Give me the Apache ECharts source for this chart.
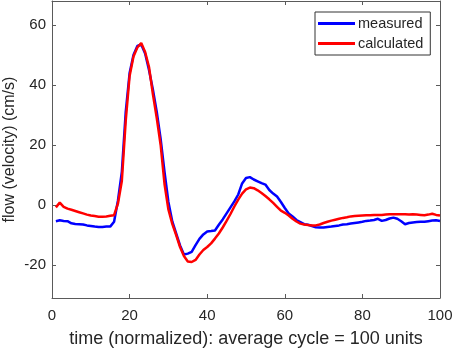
<!DOCTYPE html>
<html>
<head>
<meta charset="utf-8">
<script src="https://cdn.jsdelivr.net/npm/echarts@6/dist/echarts.min.js"></script>
<style>
  html, body { margin: 0; padding: 0; background: #fff; }
  #main { width: 454px; height: 348px; }
</style>
</head>
<body>
<div id="main"></div>
<script>
// time axis (normalized cycle)
var timeValues = [
    1, 2, 3, 4, 5, 6, 7, 8, 9, 10, 11, 12, 13, 14, 15, 16, 17, 18, 19, 20,
    21, 22, 23, 24, 25, 26, 27, 28, 29, 30, 31, 32, 33, 34, 35, 36, 37, 38, 39, 40,
    41, 42, 43, 44, 45, 46, 47, 48, 49, 50, 51, 52, 53, 54, 55, 56, 57, 58, 59, 60,
    61, 62, 63, 64, 65, 66, 67, 68, 69, 70, 71, 72, 73, 74, 75, 76, 77, 78, 79, 80,
    81, 82, 83, 84, 85, 86, 87, 88, 89, 90, 91, 92, 93, 94, 95, 96, 97, 98, 99, 100
];

var measured = [
    -5.4, -5.1, -5.3, -5.4, -6.1, -6.3, -6.4, -6.5, -6.8, -7.0, -7.2, -7.3, -7.3, -7.2, -7.2, -5.6, 1.5, 11, 31, 44,
    50, 53, 53.5, 50.5, 45, 38.5, 31, 22, 11, 1, -5.5, -9.5, -13.5, -16.5, -16.2, -15.6, -13.4, -11.3, -9.8, -8.8,
    -8.7, -8.5, -6.6, -4.8, -2.8, -0.8, 1.2, 3.5, 7.2, 9.0, 9.3, 8.5, 7.9, 7.3, 6.8, 5.0, 3.8, 2.8, 1.0, -1.0,
    -2.8, -3.8, -5.0, -5.7, -6.4, -6.6, -7.0, -7.4, -7.5, -7.5, -7.3, -7.2, -7.0, -6.8, -6.5, -6.4, -6.2, -6.0, -5.8, -5.6,
    -5.3, -5.2, -5.0, -4.6, -5.3, -5.0, -4.5, -4.2, -4.6, -5.4, -6.4, -6.0, -5.8, -5.7, -5.6, -5.6, -5.4, -5.2, -5.1, -5.3
];

var calculated = [
    -0.8, 0.8, -0.6, -1.2, -1.6, -2.0, -2.4, -2.8, -3.2, -3.5, -3.7, -3.9, -3.9, -3.8, -3.6, -3.4, 0.5, 8, 28, 43,
    49.5, 52.5, 54, 51, 46, 37, 29, 20, 7, -1.5, -6.3, -10, -14, -17, -18.8, -19, -18.3, -16.5, -15, -14,
    -12.8, -11.2, -9.5, -7.5, -5.3, -3.0, -0.5, 1.8, 3.8, 5.2, 5.8, 5.6, 4.9, 4.0, 3.0, 1.9, 0.7, -0.6, -1.9, -2.6,
    -3.5, -4.6, -5.5, -6.2, -6.5, -6.7, -6.8, -6.8, -6.5, -6.0, -5.6, -5.2, -4.9, -4.6, -4.3, -4.1, -3.8, -3.7, -3.6, -3.5,
    -3.4, -3.4, -3.3, -3.3, -3.3, -3.2, -3.1, -3.1, -3.1, -3.1, -3.1, -3.2, -3.1, -3.2, -3.3, -3.4, -3.2, -2.9, -3.3, -3.5
];

var yTicks = [-20, 0, 20, 40, 60];

function pairs(ys) {
    var d = [];
    for (var i = 0; i < timeValues.length; i++) {
        d.push([timeValues[i], ys[i]]);
    }
    return d;
}

var axisColor = '#5a5a5a';
var textColor = '#262626';
var font = '"Liberation Sans", Arial, sans-serif';

var myChart = echarts.init(document.getElementById('main'), null, { renderer: 'canvas' });

// box axes: tick marks on all four sides, pointing inwards
var xBase = {
    type: 'value',
    min: 0,
    max: 100,
    interval: 20,
    axisLine: { show: true, onZero: false, lineStyle: { color: axisColor, width: 1 } },
    axisTick: { show: true, inside: true, length: 4, lineStyle: { color: axisColor } },
    splitLine: { show: false }
};
var yBase = {
    type: 'value',
    min: -31,
    max: 68,
    axisLine: { show: true, onZero: false, lineStyle: { color: axisColor, width: 1 } },
    axisTick: { show: true, inside: true, length: 4, customValues: yTicks, lineStyle: { color: axisColor } },
    splitLine: { show: false }
};

var option = {
    animation: false,
    textStyle: { fontFamily: font },
    grid: { left: 52, right: 14, top: 1, bottom: 50, outerBoundsMode: 'none', containLabel: false },
    legend: {
        orient: 'vertical',
        left: 315,
        top: 12,
        width: 114,
        padding: [4, 7, 4, 3],
        itemGap: 5,
        itemWidth: 37,
        itemHeight: 3,
        icon: 'rect',
        borderColor: '#333',
        borderWidth: 1,
        backgroundColor: '#fff',
        textStyle: { fontSize: 14.5, color: textColor, padding: [0, 0, 0, -2] },
        data: ['measured', 'calculated']
    },
    xAxis: [
        echarts.util.merge({
            position: 'bottom',
            name: 'time (normalized): average cycle = 100 units',
            nameLocation: 'middle',
            nameGap: 32,
            nameMoveOverlap: false,
            nameTextStyle: { fontSize: 18, color: textColor },
            axisLabel: { fontSize: 15, color: textColor, margin: 10 }
        }, xBase),
        echarts.util.merge({
            position: 'top',
            axisLabel: { show: false }
        }, xBase)
    ],
    yAxis: [
        echarts.util.merge({
            position: 'left',
            name: 'flow (velocity) (cm/s)',
            nameLocation: 'middle',
            nameGap: 34,
            nameMoveOverlap: false,
            nameTextStyle: { fontSize: 16, color: textColor },
            axisLabel: { fontSize: 15, color: textColor, margin: 6, customValues: yTicks }
        }, yBase),
        echarts.util.merge({
            position: 'right',
            axisLabel: { show: false, customValues: yTicks }
        }, yBase)
    ],
    series: [
        {
            name: 'measured',
            type: 'line',
            xAxisIndex: 0,
            yAxisIndex: 0,
            showSymbol: false,
            symbol: 'none',
            color: '#0000ff',
            lineStyle: { color: '#0000ff', width: 2.5 },
            data: pairs(measured)
        },
        {
            name: 'calculated',
            type: 'line',
            xAxisIndex: 0,
            yAxisIndex: 0,
            showSymbol: false,
            symbol: 'none',
            color: '#ff0000',
            lineStyle: { color: '#ff0000', width: 2.5 },
            data: pairs(calculated)
        }
    ]
};

myChart.setOption(option);
</script>
</body>
</html>
